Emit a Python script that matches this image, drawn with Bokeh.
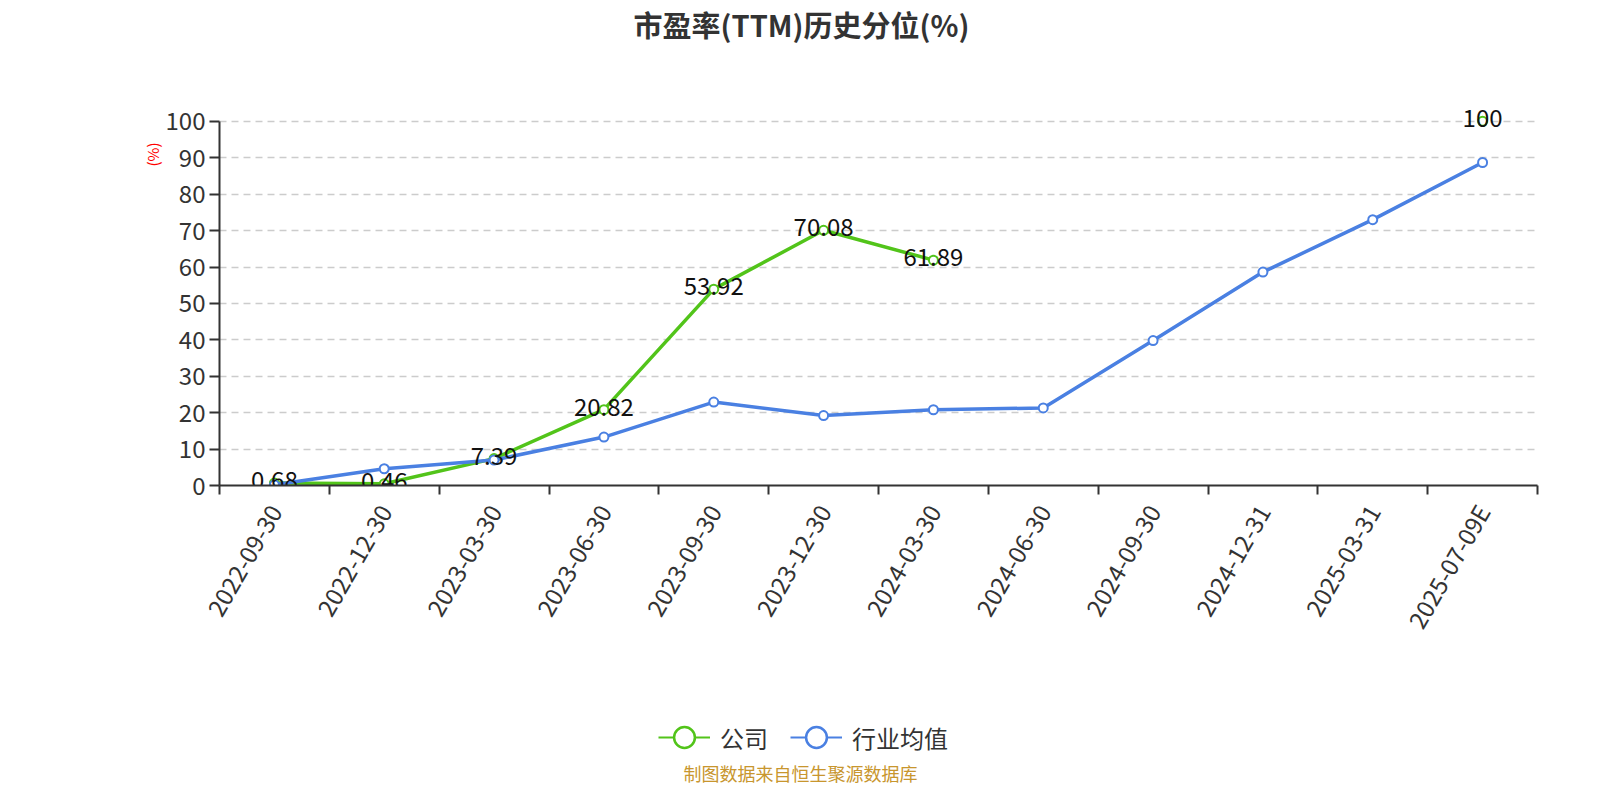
import math
from bokeh.plotting import figure
from bokeh.layouts import column
from bokeh.models import ColumnDataSource, Range1d, FixedTicker, Title, Label, Legend, LegendItem
from bokeh.core.properties import value
from bokeh.embed import file_html
from bokeh.resources import INLINE

nan = float("nan")

# data
dates = ["2022-09-30", "2022-12-30", "2023-03-30", "2023-06-30", "2023-09-30", "2023-12-30",
         "2024-03-30", "2024-06-30", "2024-09-30", "2024-12-31", "2025-03-31", "2025-07-09E"]
company = [0.68, 0.46, 7.39, 20.82, 53.92, 70.08, 61.89, nan, nan, nan, nan, 100]
industry = [0.2, 4.6, 7.0, 13.3, 22.9, 19.2, 20.8, 21.3, 39.8, 58.6, 73.0, 88.7]
y_ticks = [0, 10, 20, 30, 40, 50, 60, 70, 80, 90, 100]

GREEN = "#52c41a"
BLUE = "#4a80e2"
FONT = "Noto Sans CJK SC"

xs = [i + 0.5 for i in range(len(dates))]


def strip(height):
    # empty figure used only to hold texts above / below the chart
    f = figure(width=1584, height=height, x_range=Range1d(0, 1), y_range=Range1d(0, 1),
               x_axis_type=None, y_axis_type=None, output_backend="svg", toolbar_location=None,
               min_border=0)
    f.outline_line_color = None
    f.grid.visible = False
    return f


# title strip
t = strip(46)
t.add_layout(Label(x=582, y=23, x_units="screen", y_units="screen", text="市盈率(TTM)历史分位(%)",
                   text_font=FONT, text_font_size="29px", text_font_style="bold", text_color="#333333",
                   text_align="center", text_baseline="middle"))

# main chart; a little room above 100 so the "100" label is not cut
p = figure(width=1584, height=609, x_range=Range1d(0, len(dates)), y_range=Range1d(0, 106),
           output_backend="svg", toolbar_location=None,
           min_border_left=219, min_border_right=47, min_border_top=53, min_border_bottom=170)
p.outline_line_color = None
p.xgrid.grid_line_color = None
p.ygrid.grid_line_color = "#cccccc"
p.ygrid.grid_line_dash = "7 5"
p.ygrid.grid_line_width = 1.5

# y axis
p.yaxis.ticker = FixedTicker(ticks=y_ticks)
p.yaxis.bounds = (0, 100)
p.yaxis.axis_line_color = "#333333"
p.yaxis.axis_line_width = 2
p.yaxis.major_tick_line_color = "#333333"
p.yaxis.major_tick_line_width = 2
p.yaxis.major_tick_out = 10
p.yaxis.major_tick_in = 0
p.yaxis.minor_tick_line_color = None
p.yaxis.major_label_standoff = 4
p.yaxis.major_label_text_font = FONT
p.yaxis.major_label_text_font_size = "24px"
p.yaxis.major_label_text_color = "#333333"

# x axis: labels at band centres, ticks at band boundaries
p.xaxis.ticker = FixedTicker(ticks=xs, minor_ticks=list(range(len(dates) + 1)))
p.xaxis.major_label_overrides = {x: d for x, d in zip(xs, dates)}
p.xaxis.axis_line_color = "#333333"
p.xaxis.axis_line_width = 2
p.xaxis.major_tick_line_color = None
p.xaxis.major_tick_out = 0
p.xaxis.major_tick_in = 0
p.xaxis.minor_tick_line_color = "#333333"
p.xaxis.minor_tick_line_width = 2
p.xaxis.minor_tick_out = 9
p.xaxis.minor_tick_in = 0
p.xaxis.major_label_orientation = math.pi / 3
p.xaxis.major_label_standoff = 12
p.xaxis.major_label_text_font = FONT
p.xaxis.major_label_text_font_size = "24px"
p.xaxis.major_label_text_color = "#333333"

src = ColumnDataSource(dict(x=xs, company=company, industry=industry,
                            lbl=["" if math.isnan(v) else f"{v:g}" for v in company]))

p.line("x", "company", source=src, line_width=3.5, color=GREEN)
p.scatter("x", "company", source=src, size=9, fill_color="white", line_color=GREEN, line_width=2)
p.line("x", "industry", source=src, line_width=3.5, color=BLUE)
p.scatter("x", "industry", source=src, size=9, fill_color="white", line_color=BLUE, line_width=2)

p.text("x", "company", text="lbl", source=src, text_font=value(FONT), text_font_size="24px",
       text_color="#111111", text_align="center", text_baseline="middle", y_offset=-3)

p.add_layout(Title(text="(%)", align="left", offset=319, standoff=0,
                   text_font=FONT, text_font_size="15px", text_font_style="normal",
                   text_color="red"), "left")

# strip under the chart holding the legend and the source note
q = strip(129)

# legend glyphs sit outside the visible range; only their legend icons show
off = ColumnDataSource(dict(x=[-10], y=[-10]))
g_line = q.line("x", "y", source=off, line_width=2, color=GREEN)
g_dot = q.scatter("x", "y", source=off, fill_color="white", line_color=GREEN, line_width=2.5)
b_line = q.line("x", "y", source=off, line_width=2, color=BLUE)
b_dot = q.scatter("x", "y", source=off, fill_color="white", line_color=BLUE, line_width=2.5)

legend = Legend(items=[LegendItem(label="公司", renderers=[g_line, g_dot]),
                       LegendItem(label="行业均值", renderers=[b_line, b_dot])],
                orientation="horizontal", location=(439, 20),
                glyph_width=52, glyph_height=54, label_height=54, label_standoff=10, spacing=22,
                padding=0, margin=0, border_line_color=None, background_fill_alpha=0,
                label_text_font=FONT, label_text_font_size="24px", label_text_color="#333333")
q.add_layout(legend, "center")

q.add_layout(Label(x=581, y=12, x_units="screen", y_units="screen", text="制图数据来自恒生聚源数据库",
                   text_font=FONT, text_font_size="18px", text_color="#c8962e",
                   text_align="center", text_baseline="middle"))

open("out.html", "w").write(file_html(column(t, p, q), INLINE))
